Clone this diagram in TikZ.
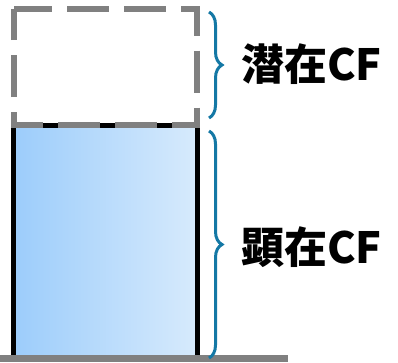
\documentclass[tikz,border=0pt]{standalone}
\usepackage{fontspec}
\newfontfamily\cjk{Noto Sans CJK JP}[BoldFont={* Black}]
\usetikzlibrary{decorations.pathreplacing}
\definecolor{bracecol}{RGB}{20,120,165}
\definecolor{grayline}{RGB}{128,128,128}
\definecolor{blueL}{RGB}{157,205,251}
\definecolor{blueR}{RGB}{214,234,252}
\tikzset{
  bracestyle/.style={draw=bracecol, line width=3pt, decorate,
    decoration={brace, amplitude=13pt, aspect=0.5}},
  labelstyle/.style={anchor=west, inner sep=0pt, font=\cjk\bfseries\fontsize{43}{48}\selectfont},
  sideline/.style={draw=black, line width=5pt},
}
\begin{document}
\begin{tikzpicture}[x=1pt,y=-1pt]
\useasboundingbox (0,0) rectangle (398,362);
% blue body
\shade[left color=blueL, right color=blueR] (16,125) rectangle (195,356);
\draw[sideline] (13.5,125) -- (13.5,356);
\draw[sideline] (197.5,125) -- (197.5,356);
\draw[sideline] (13.5,125) -- (197.5,125);
% latent dashed box
\draw[grayline, line width=6pt, dash pattern=on 42pt off 15pt, dash phase=4pt]
  (14,9) -- (196.5,9) -- (196.5,125) -- (14,125) -- cycle;
% ground
\draw[grayline, line width=7pt] (0,358.5) -- (288,358.5);
% braces
\coordinate (b1s) at (209,12);
\coordinate (b1e) at (209,118);
\coordinate (b2s) at (209,131);
\coordinate (b2e) at (209,358);
\draw[bracestyle] (b1s) -- (b1e);
\draw[bracestyle] (b2s) -- (b2e);
% labels
\node[labelstyle] (l1) at (241,64) {潜在CF};
\node[labelstyle] (l2) at (241,247) {顕在CF};
\end{tikzpicture}
\end{document}
